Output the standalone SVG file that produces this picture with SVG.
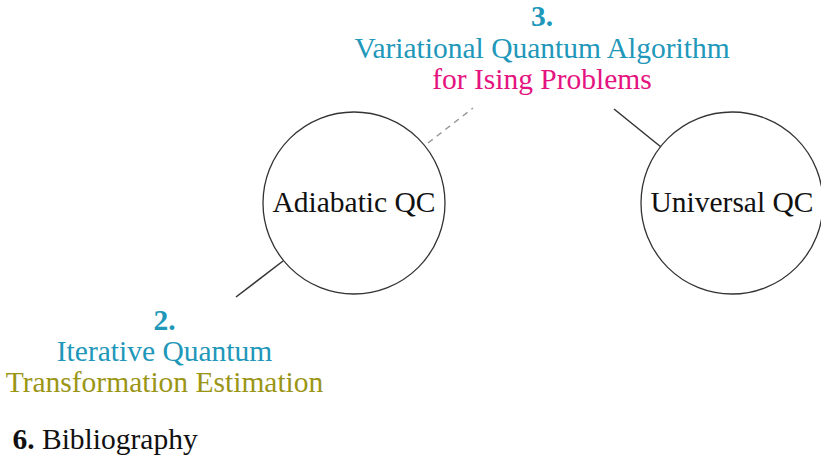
<svg xmlns="http://www.w3.org/2000/svg" width="821" height="459" viewBox="0 0 821 459">
<style>
text{font-family:"Liberation Serif","Times New Roman",serif;font-size:29.5px;text-anchor:middle}
.teal{fill:#2197ba}
.pink{fill:#e5137f}
.olive{fill:#9b9516}
.b{font-weight:bold}
.node{fill:none;stroke:#333;stroke-width:1.3}
.conn{stroke:#333;stroke-width:1.5;fill:none}
.dash{stroke:#9a9a9a;stroke-width:1.5;stroke-dasharray:6,5;fill:none}
</style>
<rect width="821" height="459" fill="#fff"/>
<g id="connectors">
<line class="conn" x1="236" y1="297" x2="283" y2="261"/>
<line class="conn" x1="614" y1="109" x2="661" y2="147"/>
<line class="dash" x1="428" y1="143" x2="473" y2="108"/>
</g>
<g id="adiabatic">
<circle class="node" cx="354" cy="203" r="91"/>
<text x="354" y="212" fill="#111">Adiabatic QC</text>
</g>
<g id="universal">
<circle class="node" cx="732" cy="203" r="91"/>
<text x="732" y="212" fill="#111">Universal QC</text>
</g>
<g id="vqa">
<text x="542" y="26" class="teal b">3.</text>
<text x="542" y="58" class="teal">Variational Quantum Algorithm</text>
<text x="542" y="89" class="pink">for Ising Problems</text>
</g>
<g id="iqte">
<text x="164.5" y="330" class="teal b">2.</text>
<text x="164.5" y="361" class="teal">Iterative Quantum</text>
<text x="164.5" y="392" class="olive">Transformation Estimation</text>
</g>
<g id="bibliography">
<text x="12.5" y="449" style="text-anchor:start" fill="#111"><tspan font-weight="bold">6.</tspan> Bibliography</text>
</g>
</svg>
